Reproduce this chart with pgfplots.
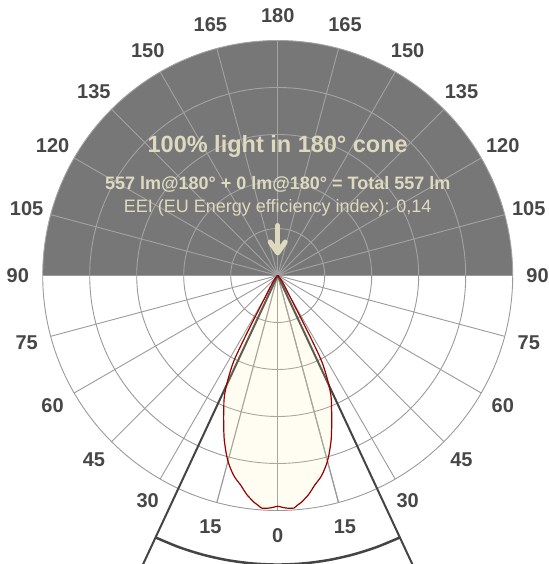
\documentclass[border=0pt]{standalone}
\usepackage{pgfplots}
\pgfplotsset{compat=1.18}
\usepackage{fontspec}
\setmainfont{Liberation Sans}
\definecolor{bggray}{HTML}{777777}
\definecolor{gridw}{HTML}{9A9A9A}
\definecolor{gridg}{HTML}{A3A3A3}
\definecolor{txtbeige}{HTML}{DDDAC0}
\definecolor{lbl}{HTML}{474747}
\definecolor{curvered}{HTML}{990000}
\definecolor{creamfill}{HTML}{FFF0A0}
\definecolor{conec}{HTML}{444444}
\pgfplotstableread{
a r
-145 0
-140 0.01
-135 0.03
-130 0.08
-128 0.12
-126 0.18
-124 0.24
-122 0.34
-121 0.42
-120 0.55
-119 0.82
-118.5 1.10
-118 1.45
-117.5 1.85
-117 2.10
-116 2.35
-115 2.58
-114 2.78
-113 2.93
-112 3.06
-111 3.21
-110 3.36
-109 3.52
-108 3.68
-107 3.82
-106 3.96
-105 4.09
-104 4.20
-103 4.30
-102 4.39
-101 4.46
-100 4.53
-99 4.62
-98 4.71
-97 4.78
-96 4.85
-95 4.90
-94 4.96
-93 4.96
-92 4.95
-91 4.93
-90 4.91
-89 4.93
-88 4.95
-87 4.96
-86 4.96
-85 4.90
-84 4.85
-83 4.78
-82 4.71
-81 4.62
-80 4.53
-79 4.46
-78 4.39
-77 4.30
-76 4.20
-75 4.09
-74 3.96
-73 3.82
-72 3.68
-71 3.52
-70 3.36
-69 3.21
-68 3.06
-67 2.93
-66 2.78
-65 2.58
-64 2.35
-63 2.10
-62.5 1.85
-62 1.45
-61.5 1.10
-61 0.82
-60 0.55
-59 0.42
-58 0.34
-56 0.24
-54 0.18
-52 0.12
-50 0.08
-45 0.03
-40 0.01
-35 0
}\curvedata
\begin{document}
\begin{tikzpicture}
\begin{axis}[
  x=47pt, y=47pt,
  xmin=-5.9085, xmax=5.7511, ymin=-6.1383, ymax=5.8617,
  hide axis, clip=true,
]
% gray upper half disk
\fill[bggray] (axis cs:0,0) -- (axis cs:5,0) arc[start angle=0,end angle=180,radius=235pt] -- cycle;
% grid circles
\pgfplotsinvokeforeach{1,2,3,4,5}{
  \draw[gridg, line width=0.9pt] (axis cs:#1,0) arc[start angle=0,end angle=180,radius=#1*47pt];
  \draw[gridw, line width=0.9pt] (axis cs:#1,0) arc[start angle=0,end angle=-180,radius=#1*47pt];
}
% radial lines
\pgfplotsinvokeforeach{15,30,45,60,75,90,105,120,135,150,165}{
  \draw[gridg, line width=0.9pt] (axis cs:0,0) -- (axis cs:{5*cos(#1)},{5*sin(#1)});
}
\pgfplotsinvokeforeach{180,195,210,225,240,285,300,315,330,345,360}{
  \draw[gridw, line width=0.9pt] (axis cs:0,0) -- (axis cs:{5*cos(#1)},{5*sin(#1)});
}
\draw[gridw, line width=1.2pt] (axis cs:0,0) -- (axis cs:{5*cos(255)},{5*sin(255)});
\draw[gridw, line width=1.3pt] (axis cs:0,0) -- (axis cs:0,-5);
\draw[gridw, line width=1.2pt] (axis cs:0,0) -- (axis cs:{5*cos(285)},{5*sin(285)});
% cone lines
\draw[conec, line width=2pt] (axis cs:0,0) -- (axis cs:{7.2*cos(-65)},{7.2*sin(-65)});
\draw[conec, line width=2pt] (axis cs:0,0) -- (axis cs:{7.2*cos(-115)},{7.2*sin(-115)});
\addplot[data cs=polar, conec, line width=2.5pt, smooth] coordinates {
(-115,6.15) (-110,6.15) (-105,6.15) (-100,6.15) (-95,6.15) (-90,6.15) (-85,6.15) (-80,6.15) (-75,6.15) (-70,6.15) (-65,6.15)
};
% luminous intensity curve
\addplot[data cs=polar, fill=creamfill, fill opacity=0.15, draw=none, smooth, tension=0.4] table[x=a, y=r] {\curvedata} -- cycle;
\addplot[data cs=polar, draw=curvered, line width=1.2pt, line join=round, smooth, tension=0.4] table[x=a, y=r] {\curvedata};
% angle labels
\pgfplotsinvokeforeach{15,30,45,60,75,90,105,120,135,150,165}{
  \node[lbl, font=\bfseries\fontsize{20}{22}\selectfont] at (axis cs:{5.53*cos(-90+#1)},{5.53*sin(-90+#1)}) {#1};
  \node[lbl, font=\bfseries\fontsize{20}{22}\selectfont] at (axis cs:{5.53*cos(-90-#1)},{5.53*sin(-90-#1)}) {#1};
}
\node[lbl, font=\bfseries\fontsize{20}{22}\selectfont] at (axis cs:0,-5.53) {0};
\node[lbl, font=\bfseries\fontsize{20}{22}\selectfont] at (axis cs:0,5.53) {180};
% texts
\node[txtbeige, anchor=base, font=\bfseries\fontsize{23.5}{26}\selectfont] at (axis cs:0,2.621) {100\% light in 180° cone};
\node[txtbeige, anchor=base, font=\bfseries\fontsize{18}{20}\selectfont] at (axis cs:0,1.840) {557 lm@180° + 0 lm@180° = Total 557 lm};
\node[txtbeige, anchor=base, font=\fontsize{18}{20}\selectfont] at (axis cs:0,1.340) {EEI (EU Energy efficiency index): 0,14};
% arrow
\draw[txtbeige, line width=5pt, line cap=round] (axis cs:0,1.064) -- (axis cs:0,0.50);
\draw[txtbeige, line width=5pt, line cap=round, line join=round] (axis cs:-0.16,0.713) -- (axis cs:0,0.479) -- (axis cs:0.16,0.713);
\end{axis}
\pgfresetboundingbox
\path[use as bounding box] (current axis.south west) rectangle (current axis.north east);
\end{tikzpicture}
\end{document}
